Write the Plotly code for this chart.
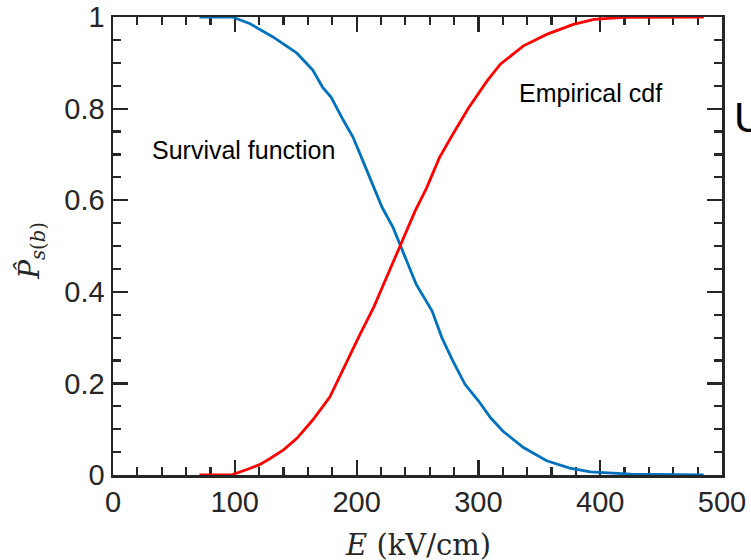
import plotly.graph_objects as go

# Empirical cdf (red)
cdf_E = [71, 97, 110, 120, 129, 140, 151, 164, 178, 189, 203, 214, 222, 230, 237,
         248, 257.5, 268, 279, 292, 307, 318, 337, 356, 378, 395, 419, 485]
cdf_P = [0.0, 0.0, 0.012, 0.022, 0.036, 0.055, 0.080, 0.120, 0.170, 0.232, 0.308, 0.366,
         0.416, 0.467, 0.510, 0.576, 0.627, 0.693, 0.744, 0.802, 0.860, 0.897, 0.937,
         0.962, 0.984, 0.995, 0.999, 1.0]

# Survival function (blue)
surv_E = [71, 98, 112, 131, 151, 164, 172, 179, 189, 197, 205, 213, 221, 230, 237,
          249, 262, 270, 279, 289, 300, 310, 320, 337, 356, 375, 392, 425, 485]
surv_P = [1.0, 1.0, 0.986, 0.957, 0.921, 0.884, 0.847, 0.825, 0.775, 0.738, 0.687,
          0.637, 0.584, 0.540, 0.493, 0.416, 0.358, 0.300, 0.249, 0.198, 0.162, 0.125,
          0.096, 0.060, 0.031, 0.015, 0.007, 0.002, 0.0]

x_ticks = [0, 100, 200, 300, 400, 500]
x_ticktext = ["0", "100", "200", "300", "400", "500"]
y_ticks = [0, 0.2, 0.4, 0.6, 0.8, 1.0]
y_ticktext = ["0", "0.2", "0.4", "0.6", "0.8", "1"]

AX = "#262626"

fig = go.Figure()
fig.add_trace(go.Scatter(x=surv_E, y=surv_P, mode="lines",
                         line=dict(color="#0072BD", width=2.8), showlegend=False))
fig.add_trace(go.Scatter(x=cdf_E, y=cdf_P, mode="lines",
                         line=dict(color="#FF0000", width=2.8), showlegend=False))

axis_common = dict(
    showgrid=False, zeroline=False, showline=True, linewidth=2.5, linecolor=AX,
    mirror="allticks", ticks="inside", ticklen=15, tickwidth=2.2, tickcolor=AX,
    tickfont=dict(family="Liberation Sans, Arial, sans-serif", size=29, color=AX),
    layer="below traces", automargin=False, ticklabeloverflow="allow",
)

fig.update_xaxes(range=[0, 500], tickvals=x_ticks, ticktext=x_ticktext,
                 minor=dict(dtick=20, tick0=0, ticks="inside", ticklen=8,
                            tickwidth=2.2, tickcolor=AX),
                 **axis_common)
fig.update_yaxes(range=[0, 1], tickvals=y_ticks, ticktext=y_ticktext,
                 minor=dict(dtick=0.05, tick0=0, ticks="inside", ticklen=8,
                            tickwidth=2.2, tickcolor=AX),
                 **axis_common)

ann_font = dict(family="Liberation Sans, Arial, sans-serif", size=25, color="black")
fig.add_annotation(x=107, y=0.71, xref="x", yref="y", text="Survival function",
                   showarrow=False, font=ann_font, xanchor="center", yanchor="middle")
fig.add_annotation(x=392, y=0.834, xref="x", yref="y", text="Empirical cdf",
                   showarrow=False, font=ann_font, xanchor="center", yanchor="middle")

# axis titles
fig.add_annotation(x=0.5, y=-0.153, xref="paper", yref="paper",
                   text="<i>E</i> (kV/cm)", showarrow=False,
                   font=dict(family="DejaVu Serif, serif", size=29, color=AX),
                   xanchor="center", yanchor="middle")
fig.add_annotation(x=-0.135, y=0.489, xref="paper", yref="paper",
                   text="<i>P\u0302</i><sub><i>s</i>(<i>b</i>)</sub>", showarrow=False,
                   textangle=-90,
                   font=dict(family="DejaVu Serif, serif", size=28, color=AX),
                   xanchor="center", yanchor="middle")

# cropped letter at right edge of the image
fig.add_annotation(x=1.017, y=0.78, xref="paper", yref="paper", text="U",
                   showarrow=False,
                   font=dict(family="Liberation Sans, Arial, sans-serif", size=42, color="black"),
                   xanchor="left", yanchor="middle")

fig.update_layout(width=751, height=560, autosize=False,
                  margin=dict(l=113, r=29, t=17, b=85, pad=0, autoexpand=False),
                  plot_bgcolor="white", paper_bgcolor="white")

fig.write_html("out.html",
               config={"displayModeBar": False, "staticPlot": True},
               post_script="document.body.style.margin='0';document.body.style.overflow='hidden';")
